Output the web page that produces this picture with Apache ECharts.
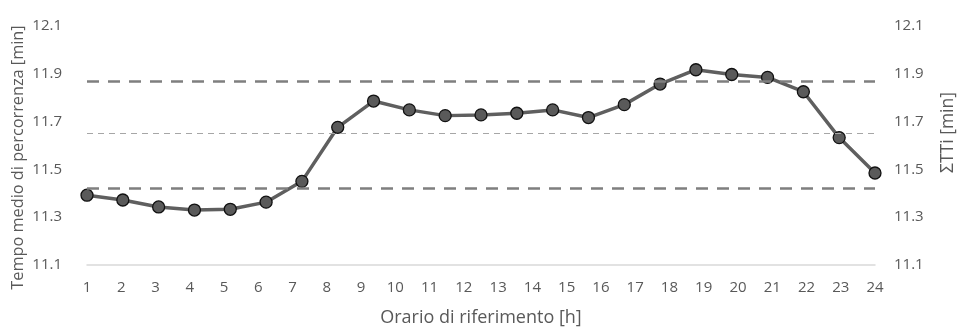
<!DOCTYPE html>
<html><head><meta charset="utf-8">
<script src="https://cdn.jsdelivr.net/npm/echarts@6/dist/echarts.min.js"></script>
<style>html,body{margin:0;padding:0;background:#fff}#c{width:957px;height:333px}</style>
</head><body><div id="c"></div>
<script>
var hourLabels = ['1','2','3','4','5','6','7','8','9','10','11','12','13','14','15','16','17','18','19','20','21','22','23','24'];
var pointIds = ['p1','p2','p3','p4','p5','p6','p7','p8','p9','p10','p11','p12','p13','p14','p15','p16','p17','p18','p19','p20','p21','p22','p23'];
var travelTime = [11.392,11.372,11.343,11.330,11.333,11.363,11.450,11.676,11.786,11.749,11.725,11.728,11.735,11.749,11.717,11.771,11.857,11.917,11.897,11.885,11.825,11.633,11.485];
var upperLimit = 11.871;
var meanLine = 11.647;
var lowerLimit = 11.420;
var yMin = 11.1, yMax = 12.1, yStep = 0.2;

var font = 'Open Sans, Liberation Sans, sans-serif';
var grey = '#595959';
var chart = echarts.init(document.getElementById('c'));
chart.setOption({
  animation: false,
  grid: {left: 87, right: 82, top: 26, bottom: 68, outerBoundsMode: 'none', containLabel: false},
  xAxis: [{
    type: 'category', data: hourLabels, boundaryGap: false,
    name: 'Orario di riferimento [h]', nameLocation: 'middle', nameGap: 44,
    nameTextStyle: {color: grey, fontSize: 18, fontFamily: font},
    axisLine: {lineStyle: {color: '#d9d9d9', width: 1.5}},
    axisTick: {show: false},
    axisLabel: {color: grey, fontSize: 15, fontFamily: font, margin: 15}
  }, {
    type: 'category', data: pointIds, boundaryGap: false, show: false
  }],
  yAxis: [{
    type: 'value', min: yMin, max: yMax, interval: yStep,
    name: 'Tempo medio di percorrenza [min]', nameLocation: 'middle', nameGap: 61,
    nameMoveOverlap: false,
    nameTextStyle: {color: grey, fontSize: 16.3, fontFamily: font, padding: [0, 24, 0, 0]},
    axisLine: {show: false}, axisTick: {show: false}, splitLine: {show: false},
    axisLabel: {color: grey, fontSize: 15, fontFamily: font, margin: 25,
      formatter: function(v){return v.toFixed(1);}}
  }, {
    type: 'value', min: yMin, max: yMax, interval: yStep, position: 'right',
    name: 'ΣTTi [min]', nameLocation: 'middle', nameGap: 64, nameRotate: 90,
    nameTextStyle: {color: grey, fontSize: 17.5, fontFamily: font, padding: [0, 0, 0, 26]},
    axisLine: {show: false}, axisTick: {show: false}, splitLine: {show: false},
    axisLabel: {color: grey, fontSize: 15, fontFamily: font, margin: 19,
      formatter: function(v){return v.toFixed(1);}}
  }],
  series: [{
    type: 'line', xAxisIndex: 0, yAxisIndex: 0, data: [],
    markLine: {
      silent: true, symbol: ['none','none'], label: {show: false},
      data: [
        {yAxis: upperLimit, lineStyle: {color: '#7f7f7f', width: 2.5, type: [12, 9]}},
        {yAxis: meanLine, lineStyle: {color: '#a6a6a6', width: 1.2, type: [6, 5]}},
        {yAxis: lowerLimit, lineStyle: {color: '#7f7f7f', width: 2.5, type: [12, 9]}}
      ]
    }
  }, {
    type: 'line', xAxisIndex: 1, yAxisIndex: 0, data: travelTime,
    symbol: 'circle', symbolSize: 12,
    lineStyle: {color: '#5f5f5f', width: 3.5},
    itemStyle: {color: '#5a5a5a', borderColor: '#111', borderWidth: 1.3}
  }]
});
</script></body></html>
